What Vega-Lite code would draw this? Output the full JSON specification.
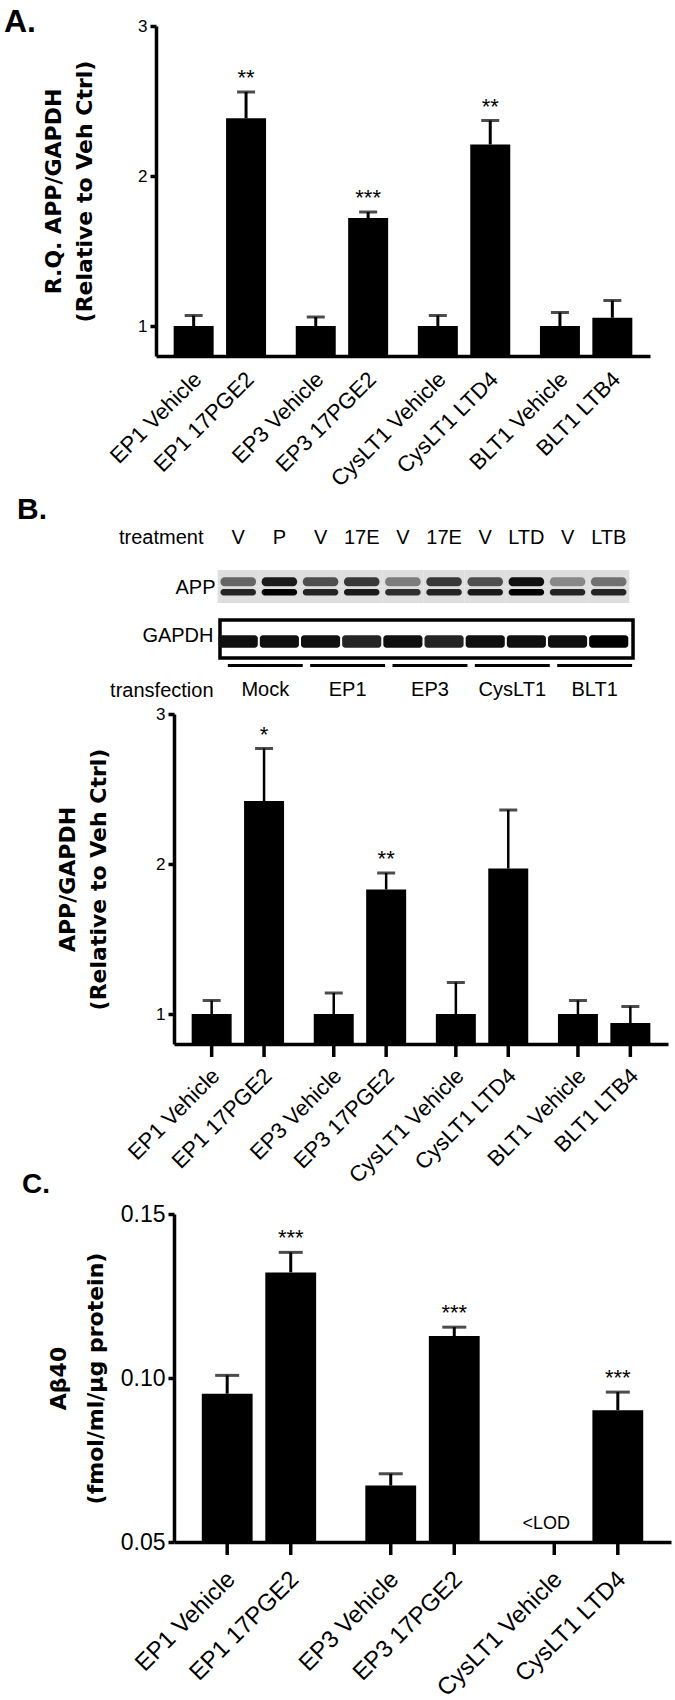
{
  "$schema": "https://vega.github.io/schema/vega-lite/v6.json",
  "background": "white",
  "padding": {"left": 4, "top": 6, "right": 2, "bottom": 2},
  "spacing": 4,
  "config": {
    "view": {"stroke": null},
    "font": "Liberation Sans",
    "axis": {"domainColor": "black", "tickColor": "black", "labelColor": "black", "titleColor": "black", "grid": false, "domainWidth": 3.5, "tickWidth": 3.5},
    "title": {"color": "black"}
  },
  "datasets": {
    "panelA": [
      {"group": "EP1", "cond": "Vehicle", "label": "EP1 Vehicle", "value": 1.0, "hi": 1.07, "sig": null},
      {"group": "EP1", "cond": "Agonist", "label": "EP1 17PGE2", "value": 2.385, "hi": 2.56, "sig": "**"},
      {"group": "EP3", "cond": "Vehicle", "label": "EP3 Vehicle", "value": 1.0, "hi": 1.06, "sig": null},
      {"group": "EP3", "cond": "Agonist", "label": "EP3 17PGE2", "value": 1.72, "hi": 1.76, "sig": "***"},
      {"group": "CysLT1", "cond": "Vehicle", "label": "CysLT1 Vehicle", "value": 1.0, "hi": 1.07, "sig": null},
      {"group": "CysLT1", "cond": "Agonist", "label": "CysLT1 LTD4", "value": 2.21, "hi": 2.37, "sig": "**"},
      {"group": "BLT1", "cond": "Vehicle", "label": "BLT1 Vehicle", "value": 1.0, "hi": 1.09, "sig": null},
      {"group": "BLT1", "cond": "Agonist", "label": "BLT1 LTB4", "value": 1.055, "hi": 1.17, "sig": null}
    ],
    "panelB": [
      {"group": "EP1", "cond": "Vehicle", "label": "EP1 Vehicle", "value": 1.0, "hi": 1.09, "sig": null},
      {"group": "EP1", "cond": "Agonist", "label": "EP1 17PGE2", "value": 2.42, "hi": 2.77, "sig": "*"},
      {"group": "EP3", "cond": "Vehicle", "label": "EP3 Vehicle", "value": 1.0, "hi": 1.14, "sig": null},
      {"group": "EP3", "cond": "Agonist", "label": "EP3 17PGE2", "value": 1.83, "hi": 1.94, "sig": "**"},
      {"group": "CysLT1", "cond": "Vehicle", "label": "CysLT1 Vehicle", "value": 1.0, "hi": 1.21, "sig": null},
      {"group": "CysLT1", "cond": "Agonist", "label": "CysLT1 LTD4", "value": 1.97, "hi": 2.36, "sig": null},
      {"group": "BLT1", "cond": "Vehicle", "label": "BLT1 Vehicle", "value": 1.0, "hi": 1.09, "sig": null},
      {"group": "BLT1", "cond": "Agonist", "label": "BLT1 LTB4", "value": 0.94, "hi": 1.05, "sig": null}
    ],
    "panelC": [
      {"group": "EP1", "cond": "Vehicle", "label": "EP1 Vehicle", "value": 0.0952, "hi": 0.1008, "sig": null, "note": null},
      {"group": "EP1", "cond": "Agonist", "label": "EP1 17PGE2", "value": 0.1322, "hi": 0.1383, "sig": "***", "note": null},
      {"group": "EP3", "cond": "Vehicle", "label": "EP3 Vehicle", "value": 0.0672, "hi": 0.0708, "sig": null, "note": null},
      {"group": "EP3", "cond": "Agonist", "label": "EP3 17PGE2", "value": 0.1128, "hi": 0.1155, "sig": "***", "note": null},
      {"group": "CysLT1", "cond": "Vehicle", "label": "CysLT1 Vehicle", "value": null, "hi": null, "sig": null, "note": "<LOD"},
      {"group": "CysLT1", "cond": "Agonist", "label": "CysLT1 LTD4", "value": 0.0902, "hi": 0.0957, "sig": "***", "note": null}
    ],
    "blot": [
      {"lane": "Mock V", "group": "Mock", "band": "upper", "intensity": 0.55},
      {"lane": "Mock P", "group": "Mock", "band": "upper", "intensity": 0.9},
      {"lane": "EP1 V", "group": "EP1", "band": "upper", "intensity": 0.65},
      {"lane": "EP1 17E", "group": "EP1", "band": "upper", "intensity": 0.75},
      {"lane": "EP3 V", "group": "EP3", "band": "upper", "intensity": 0.45},
      {"lane": "EP3 17E", "group": "EP3", "band": "upper", "intensity": 0.75},
      {"lane": "CysLT1 V", "group": "CysLT1", "band": "upper", "intensity": 0.65},
      {"lane": "CysLT1 LTD", "group": "CysLT1", "band": "upper", "intensity": 0.95},
      {"lane": "BLT1 V", "group": "BLT1", "band": "upper", "intensity": 0.4},
      {"lane": "BLT1 LTB", "group": "BLT1", "band": "upper", "intensity": 0.5},
      {"lane": "Mock V", "group": "Mock", "band": "lower", "intensity": 0.85},
      {"lane": "Mock P", "group": "Mock", "band": "lower", "intensity": 1.0},
      {"lane": "EP1 V", "group": "EP1", "band": "lower", "intensity": 0.85},
      {"lane": "EP1 17E", "group": "EP1", "band": "lower", "intensity": 0.9},
      {"lane": "EP3 V", "group": "EP3", "band": "lower", "intensity": 0.8},
      {"lane": "EP3 17E", "group": "EP3", "band": "lower", "intensity": 0.85},
      {"lane": "CysLT1 V", "group": "CysLT1", "band": "lower", "intensity": 0.9},
      {"lane": "CysLT1 LTD", "group": "CysLT1", "band": "lower", "intensity": 1.0},
      {"lane": "BLT1 V", "group": "BLT1", "band": "lower", "intensity": 0.85},
      {"lane": "BLT1 LTB", "group": "BLT1", "band": "lower", "intensity": 0.85},
      {"lane": "Mock V", "group": "Mock", "band": "GAPDH", "intensity": 0.95},
      {"lane": "Mock P", "group": "Mock", "band": "GAPDH", "intensity": 0.95},
      {"lane": "EP1 V", "group": "EP1", "band": "GAPDH", "intensity": 0.95},
      {"lane": "EP1 17E", "group": "EP1", "band": "GAPDH", "intensity": 0.85},
      {"lane": "EP3 V", "group": "EP3", "band": "GAPDH", "intensity": 0.95},
      {"lane": "EP3 17E", "group": "EP3", "band": "GAPDH", "intensity": 0.85},
      {"lane": "CysLT1 V", "group": "CysLT1", "band": "GAPDH", "intensity": 0.95},
      {"lane": "CysLT1 LTD", "group": "CysLT1", "band": "GAPDH", "intensity": 0.95},
      {"lane": "BLT1 V", "group": "BLT1", "band": "GAPDH", "intensity": 0.95},
      {"lane": "BLT1 LTB", "group": "BLT1", "band": "GAPDH", "intensity": 1.0}
    ],
    "transfection": [
      {"group": "Mock"}, {"group": "EP1"}, {"group": "EP3"}, {"group": "CysLT1"}, {"group": "BLT1"}
    ]
  },
  "resolve": {"scale": {"x": "independent", "y": "independent", "color": "independent", "xOffset": "independent"}},
  "vconcat": [
    {
      "width": 494, "height": 330,
      "title": {"text": "A.", "anchor": "start", "frame": "group", "dx": -170, "offset": -22, "fontSize": 32, "fontWeight": "bold", "font": "Liberation Sans Narrow, Liberation Sans"},
      "data": {"name": "panelA"},
      "encoding": {
        "x": {"field": "group", "type": "nominal", "sort": ["EP1", "EP3", "CysLT1", "BLT1"], "scale": {"paddingInner": 0.142, "paddingOuter": 0.094, "range": [-18, 476]}, "axis": {"labels": false, "ticks": false, "title": null}},
        "xOffset": {"field": "cond", "type": "nominal", "sort": ["Vehicle", "Agonist"], "scale": {"paddingInner": 0.237, "paddingOuter": 0.118}}
      },
      "layer": [
        {"mark": {"type": "bar", "color": "black"},
         "encoding": {
           "y": {"field": "value", "type": "quantitative", "scale": {"domain": [0.8, 3], "nice": false, "zero": false},
                 "axis": {"values": [1, 2, 3], "format": "d", "offset": 18, "title": ["R.Q. APP/GAPDH", "(Relative to Veh Ctrl)"], "titleFont": "DejaVu Sans", "titleFontSize": 22, "titleFontWeight": "bold", "titleLineHeight": 31, "titlePadding": 41, "labelFontSize": 17, "labelPadding": 3, "tickSize": 6}},
           "y2": {"datum": 0.8}}},
        {"mark": {"type": "rule", "color": "black", "strokeWidth": 3}, "encoding": {"y": {"field": "value", "type": "quantitative"}, "y2": {"field": "hi"}}},
        {"mark": {"type": "tick", "color": "black", "thickness": 3, "size": 18}, "encoding": {"y": {"field": "hi", "type": "quantitative"}}},
        {"transform": [{"filter": "datum.sig != null"}], "mark": {"type": "text", "baseline": "bottom", "dy": -2, "fontSize": 22, "color": "black"}, "encoding": {"y": {"field": "hi", "type": "quantitative"}, "text": {"field": "sig"}}},
        {"mark": {"type": "text", "angle": -45, "align": "right", "baseline": "middle", "fontSize": 22, "dx": -11, "dy": 17, "color": "black"}, "encoding": {"y": {"datum": 0.8}, "text": {"field": "label"}}}
      ]
    },
    {
      "width": 494, "height": 44,
      "title": {"text": "B.", "anchor": "start", "frame": "group", "dx": -157, "offset": 2, "fontSize": 30, "fontWeight": "bold", "font": "Liberation Sans Narrow, Liberation Sans"},
      "data": {"name": "blot"},
      "transform": [{"filter": "datum.band != 'GAPDH'"}],
      "encoding": {
        "x": {"field": "lane", "type": "nominal", "sort": null, "scale": {"paddingInner": 0, "paddingOuter": 1.02, "align": 0.53},
              "axis": {"orient": "top", "labelExpr": "split(datum.label, ' ')[1]", "labelAngle": 0, "labelFontSize": 20, "labelFont": "Liberation Sans Narrow, Liberation Sans", "labelPadding": 23, "ticks": false, "tickSize": 0, "domain": false,
                       "title": "treatment", "titleFont": "Liberation Sans Narrow, Liberation Sans", "titleFontSize": 20, "titleFontWeight": "normal", "titleAngle": 0, "titleAlign": "right", "titleBaseline": "middle", "titleX": 29, "titleY": -33}},
        "y": {"field": "band", "type": "nominal", "sort": ["upper", "lower"], "scale": {"paddingInner": 0, "paddingOuter": 0.333, "align": 0},
              "axis": {"labelExpr": "datum.value == 'lower' ? 'APP' : ''", "labelFontSize": 20, "labelFont": "Liberation Sans Narrow, Liberation Sans", "labelPadding": 5, "labelOffset": -7, "ticks": false, "tickSize": 0, "domain": false, "title": null, "offset": -46}}
      },
      "layer": [
        {"mark": {"type": "rect", "color": "#dedede"}},
        {"transform": [{"filter": "datum.band == 'upper'"}],
         "mark": {"type": "rect", "width": {"band": 0.86}, "height": {"band": 0.55}, "cornerRadius": 4, "yOffset": 3.5},
         "encoding": {
           "color": {"field": "intensity", "type": "quantitative", "scale": {"domain": [0, 1], "range": ["#f0f0f0", "#000000"]}, "legend": null}}},
        {"transform": [{"filter": "datum.band == 'lower'"}],
         "mark": {"type": "rect", "width": {"band": 0.86}, "height": {"band": 0.4}, "cornerRadius": 3, "yOffset": -2.5},
         "encoding": {
           "color": {"field": "intensity", "type": "quantitative", "scale": {"domain": [0, 1], "range": ["#f0f0f0", "#000000"]}, "legend": null}}}
      ]
    },
    {
      "width": 494, "height": 38,
      "data": {"name": "blot"},
      "transform": [{"filter": "datum.band == 'GAPDH'"}],
      "layer": [
        {"transform": [{"filter": "datum.lane == 'Mock V'"}], "mark": {"type": "rect", "fill": "white", "stroke": "black", "strokeWidth": 3.5},
         "encoding": {"x": {"field": "band", "type": "nominal", "scale": {"paddingInner": 0, "paddingOuter": 0.098, "align": 0.568}, "axis": null}}},
        {"mark": {"type": "rect", "width": {"band": 0.95}, "cornerRadius": 3},
         "encoding": {
           "x": {"field": "lane", "type": "nominal", "sort": null, "scale": {"paddingInner": 0, "paddingOuter": 1.02, "align": 0.53}, "axis": null},
           "y": {"field": "band", "type": "nominal", "scale": {"paddingInner": 0, "paddingOuter": 2, "align": 0.6},
                 "axis": {"labelFontSize": 20, "labelFont": "Liberation Sans Narrow, Liberation Sans", "labelPadding": 7, "labelOffset": -6, "ticks": false, "tickSize": 0, "domain": false, "title": null, "offset": -46}},
           "color": {"field": "intensity", "type": "quantitative", "scale": {"domain": [0, 1], "range": ["#f0f0f0", "#000000"]}, "legend": null}}}
      ],
      "resolve": {"scale": {"x": "independent"}}
    },
    {
      "width": 494, "height": 3,
      "data": {"name": "transfection"},
      "mark": {"type": "rect", "color": "black"},
      "encoding": {
        "x": {"field": "group", "type": "nominal", "sort": null, "scale": {"paddingInner": 0.09, "paddingOuter": 0.545, "align": 0.6},
              "axis": {"orient": "bottom", "labelAngle": 0, "labelFontSize": 20, "labelFont": "Liberation Sans Narrow, Liberation Sans", "labelPadding": 12, "ticks": false, "tickSize": 0, "domain": false,
                       "title": "transfection", "titleFont": "Liberation Sans Narrow, Liberation Sans", "titleFontSize": 20, "titleFontWeight": "normal", "titleAngle": 0, "titleAlign": "right", "titleBaseline": "middle", "titleX": 39, "titleY": 23.5}}
      }
    },
    {
      "width": 494, "height": 330,
      "title": {"text": "C.", "orient": "bottom", "anchor": "start", "frame": "group", "dx": -152, "offset": -16, "fontSize": 28, "fontWeight": "bold", "font": "Liberation Sans Narrow, Liberation Sans"},
      "data": {"name": "panelB"},
      "encoding": {
        "x": {"field": "group", "type": "nominal", "sort": ["EP1", "EP3", "CysLT1", "BLT1"], "scale": {"paddingInner": 0.142, "paddingOuter": 0.094}, "axis": {"labels": false, "ticks": false, "title": null}},
        "xOffset": {"field": "cond", "type": "nominal", "sort": ["Vehicle", "Agonist"], "scale": {"paddingInner": 0.237, "paddingOuter": 0.118}}
      },
      "layer": [
        {"mark": {"type": "bar", "color": "black"},
         "encoding": {
           "y": {"field": "value", "type": "quantitative", "scale": {"domain": [0.8, 3], "nice": false, "zero": false},
                 "axis": {"values": [1, 2, 3], "format": "d", "title": ["APP/GAPDH", "(Relative to Veh Ctrl)"], "titleFont": "DejaVu Sans", "titleFontSize": 22, "titleFontWeight": "bold", "titleLineHeight": 31, "titlePadding": 45, "labelFontSize": 17, "labelPadding": 3, "tickSize": 6}},
           "y2": {"datum": 0.8}}},
        {"mark": {"type": "rule", "color": "black", "strokeWidth": 2.5}, "encoding": {"y": {"field": "value", "type": "quantitative"}, "y2": {"field": "hi"}}},
        {"mark": {"type": "tick", "color": "black", "thickness": 3, "size": 18}, "encoding": {"y": {"field": "hi", "type": "quantitative"}}},
        {"mark": {"type": "rule", "color": "black", "strokeWidth": 3.5, "y2Offset": 13}, "encoding": {"y": {"datum": 0.8}, "y2": {"datum": 0.8}}},
        {"transform": [{"filter": "datum.sig != null"}], "mark": {"type": "text", "baseline": "bottom", "dy": -2, "fontSize": 22, "color": "black"}, "encoding": {"y": {"field": "hi", "type": "quantitative"}, "text": {"field": "sig"}}},
        {"mark": {"type": "text", "angle": -45, "align": "right", "baseline": "middle", "fontSize": 22, "dx": -17, "dy": 23, "color": "black"}, "encoding": {"y": {"datum": 0.8}, "text": {"field": "label"}}}
      ]
    },
    {
      "width": 497, "height": 328,
      "data": {"name": "panelC"},
      "encoding": {
        "x": {"field": "group", "type": "nominal", "sort": ["EP1", "EP3", "CysLT1"], "scale": {"paddingInner": 0.223, "paddingOuter": 0.131}, "axis": {"labels": false, "ticks": false, "title": null}},
        "xOffset": {"field": "cond", "type": "nominal", "sort": ["Vehicle", "Agonist"], "scale": {"paddingInner": 0.2, "paddingOuter": 0.1}}
      },
      "layer": [
        {"mark": {"type": "bar", "color": "black"},
         "encoding": {
           "y": {"field": "value", "type": "quantitative", "scale": {"domain": [0.05, 0.15], "nice": false, "zero": false},
                 "axis": {"values": [0.05, 0.1, 0.15], "format": ".2f", "title": ["Aβ40", "(fmol/ml/µg protein)"], "titleFont": "DejaVu Sans", "titleFontSize": 22, "titleFontWeight": "bold", "titleLineHeight": 37, "titlePadding": 13, "labelFontSize": 23, "labelPadding": 3, "tickSize": 6}},
           "y2": {"datum": 0.05}}},
        {"mark": {"type": "rule", "color": "black", "strokeWidth": 3}, "encoding": {"y": {"field": "value", "type": "quantitative"}, "y2": {"field": "hi"}}},
        {"mark": {"type": "tick", "color": "black", "thickness": 3, "size": 24}, "encoding": {"y": {"field": "hi", "type": "quantitative"}}},
        {"mark": {"type": "rule", "color": "black", "strokeWidth": 3.5, "y2Offset": 13}, "encoding": {"y": {"datum": 0.05}, "y2": {"datum": 0.05}}},
        {"transform": [{"filter": "datum.sig != null"}], "mark": {"type": "text", "baseline": "bottom", "dy": -2, "fontSize": 22, "color": "black"}, "encoding": {"y": {"field": "hi", "type": "quantitative"}, "text": {"field": "sig"}}},
        {"transform": [{"filter": "datum.note != null"}], "mark": {"type": "text", "baseline": "bottom", "align": "center", "dx": -8, "dy": -9, "fontSize": 18, "color": "black"}, "encoding": {"y": {"datum": 0.05}, "text": {"field": "note"}}},
        {"mark": {"type": "text", "angle": -45, "align": "right", "baseline": "middle", "fontSize": 24, "dx": -21, "dy": 27, "color": "black"}, "encoding": {"y": {"datum": 0.05}, "text": {"field": "label"}}}
      ]
    }
  ]
}
